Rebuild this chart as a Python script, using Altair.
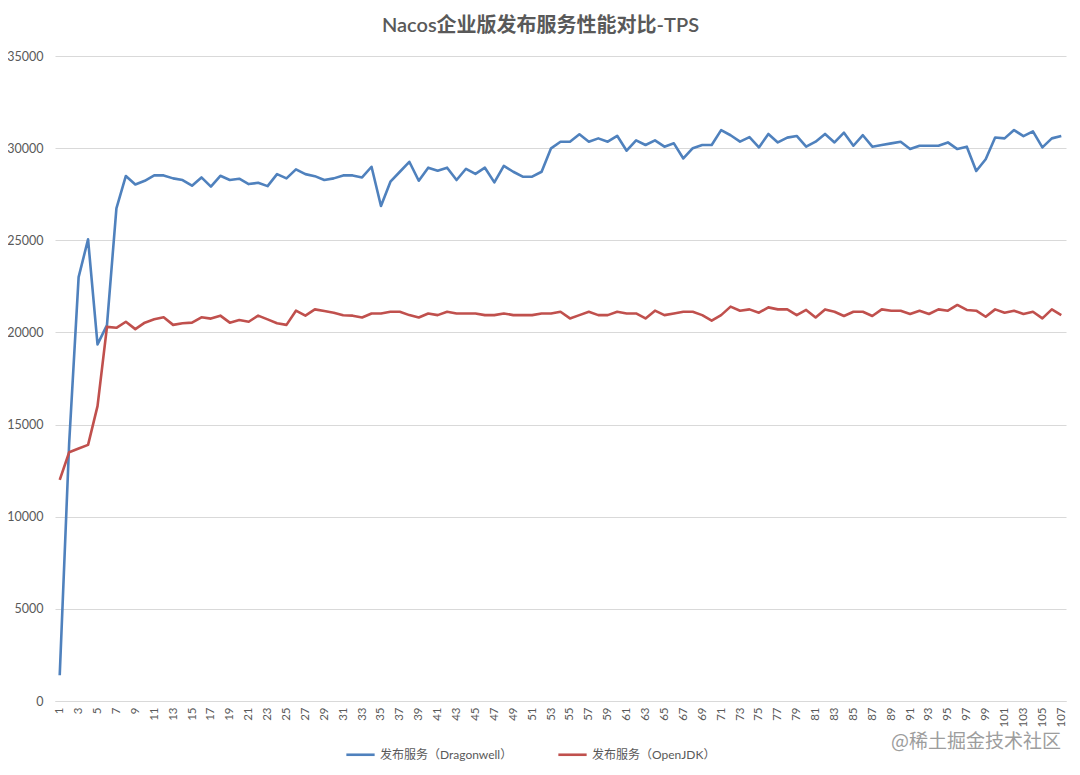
import altair as alt
import pandas as pd

runs = list(range(1, 108))
tick_values = list(range(1, 108, 2))
y_ticks = [0, 5000, 10000, 15000, 20000, 25000, 30000, 35000]
series_names = ["发布服务（Dragonwell）", "发布服务（OpenJDK）"]
series_colors = ["#4F81BD", "#C0504D"]
title_text = "Nacos企业版发布服务性能对比-TPS"
watermark = "@稀土掘金技术社区"

dragonwell = [
    1400, 14000, 23000, 25050, 19350, 20400, 26730, 28490, 28030, 28230,
    28520, 28520, 28360, 28270, 27960, 28410, 27910, 28500, 28270, 28340,
    28050, 28120, 27940, 28590, 28360, 28850, 28590, 28480, 28270, 28360,
    28520, 28520, 28410, 28990, 26860, 28180, 28720, 29260, 28230, 28940,
    28770, 28940, 28270, 28880, 28600, 28940, 28140, 29040, 28720, 28450,
    28450, 28720, 29990, 30350, 30350, 30750, 30350, 30530, 30350, 30670,
    29860, 30420, 30170, 30420, 30080, 30260, 29440, 30000, 30170, 30170,
    30980, 30700, 30350, 30600, 30040, 30770, 30310, 30570, 30660, 30080,
    30350, 30770, 30310, 30840, 30130, 30700, 30080, 30170, 30260, 30350,
    29950, 30130, 30130, 30130, 30310, 29950, 30080, 28760, 29400, 30580,
    30530, 30980, 30650, 30910, 30040, 30530, 30660,
]

openjdk = [
    12000, 13500, 13700, 13900, 16000, 20300, 20250, 20580, 20180, 20530,
    20710, 20820, 20410, 20500, 20530, 20820, 20750, 20910, 20530, 20670,
    20580, 20910, 20710, 20500, 20410, 21180, 20910, 21250, 21160, 21070,
    20930, 20910, 20810, 21030, 21030, 21120, 21120, 20940, 20810, 21030,
    20940, 21120, 21030, 21030, 21030, 20940, 20940, 21030, 20940, 20940,
    20940, 21030, 21030, 21120, 20760, 20940, 21120, 20940, 20940, 21120,
    21030, 21030, 20760, 21180, 20940, 21030, 21120, 21120, 20940, 20640,
    20940, 21400, 21180, 21250, 21070, 21360, 21250, 21250, 20940, 21220,
    20810, 21250, 21120, 20890, 21120, 21120, 20890, 21250, 21180, 21180,
    21000, 21180, 21000, 21250, 21180, 21490, 21220, 21180, 20850, 21250,
    21070, 21180, 21000, 21120, 20760, 21250, 20940,
]

df = pd.DataFrame({
    "run": runs + runs,
    "tps": dragonwell + openjdk,
    "series": [series_names[0]] * len(runs) + [series_names[1]] * len(runs),
})

FONT = "Lato, 'Noto Sans CJK SC', sans-serif"
GREY = "#595959"

lines = alt.Chart(df).mark_line(strokeWidth=2.6, strokeJoin="round").encode(
    x=alt.X(
        "run:Q",
        scale=alt.Scale(domain=[0.5, 107.5], nice=False, zero=False),
        axis=alt.Axis(
            values=tick_values, labelAngle=-90, title=None, grid=False,
            ticks=False, domain=True, domainColor="#d9d9d9", domainWidth=1,
            labelPadding=6, labelFontSize=11.5, labelColor=GREY, labelFont=FONT,
            labelAlign="right", labelBaseline="middle", labelOverlap=False,
        ),
    ),
    y=alt.Y(
        "tps:Q",
        scale=alt.Scale(domain=[0, 35000], nice=False),
        axis=alt.Axis(
            values=y_ticks, title=None, domain=False, ticks=False, format="d",
            gridColor="#d9d9d9", gridWidth=1, labelPadding=12,
            labelFontSize=12.5, labelColor=GREY, labelFont=FONT,
        ),
    ),
    color=alt.Color(
        "series:N",
        scale=alt.Scale(domain=series_names, range=series_colors),
        legend=alt.Legend(
            title=None, orient="none", direction="horizontal",
            legendX=290, legendY=683, symbolType="stroke",
            symbolSize=800, symbolStrokeWidth=2.6, labelFontSize=12,
            labelColor=GREY, labelFont=FONT, columnPadding=40,
        ),
    ),
)

wm = alt.Chart(pd.DataFrame({"t": [watermark]})).mark_text(
    align="right", baseline="middle", fontSize=19, color="#8c8c8c",
    opacity=0.85, font="'Noto Sans CJK SC', sans-serif",
).encode(x=alt.value(1006), y=alt.value(686), text="t:N")

chart = alt.layer(lines, wm).properties(
    width=1011,
    height=645,
    title=alt.TitleParams(
        title_text, fontSize=20, color=GREY, font=FONT, fontWeight=600,
        anchor="middle", dx=-20, offset=14,
    ),
    padding={"left": 47, "top": 48, "right": 6, "bottom": 70},
    autosize=alt.AutoSizeParams(type="none"),
).configure_view(stroke=None)

chart.save("out.html", embed_options={"renderer": "svg", "actions": False})
